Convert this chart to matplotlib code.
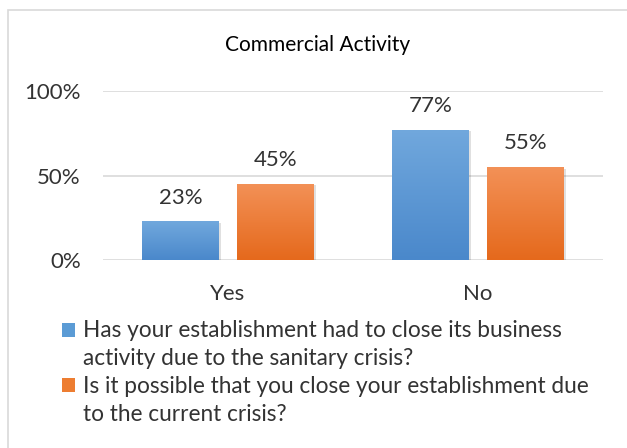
import numpy as np
import matplotlib
matplotlib.use("Agg")
import matplotlib.pyplot as plt
from matplotlib.colors import LinearSegmentedColormap, to_rgb
from matplotlib.patches import Rectangle
import matplotlib.transforms as mtransforms

plt.rcParams['font.family'] = ['Lato', 'DejaVu Sans']

# ---- data ----
title = "Commercial Activity"
categories = ["Yes", "No"]
series_names = [
    "Has your establishment had to close its business\nactivity due to the sanitary crisis?",
    "Is it possible that you close your establishment due\nto the current crisis?",
]
closed_values = [0.23, 0.77]
possible_values = [0.45, 0.55]
y_ticks = [0.0, 0.5, 1.0]
y_tick_labels = ["0%", "50%", "100%"]

series_values = [closed_values, possible_values]
base_colors = ["#5b9bd5", "#ed7d31"]
grad_top = ["#71a8dd", "#f39157"]
grad_bottom = ["#4a88cb", "#e5691c"]
text_color = "#333333"

W, H = 627, 448
fig = plt.figure(figsize=(W / 100, H / 100), dpi=100)

# outer chart border
border = Rectangle((7.5 / W, -0.1), 1.2, 1.1 - 10.5 / H, transform=fig.transFigure,
                   fill=False, edgecolor="#d9d9d9", linewidth=1.2)
fig.patches.append(border)

ax = fig.add_axes([103 / W, (H - 260) / H, 500 / W, 169 / H])
for s in ax.spines.values():
    s.set_visible(False)
ax.set_yticks(y_ticks)
ax.set_yticklabels(y_tick_labels)
ax.yaxis.grid(True, color="#d9d9d9", linewidth=1.2)
ax.set_axisbelow(True)
ax.tick_params(axis="y", length=0, pad=16, labelsize=16, labelcolor=text_color)
ax.set_xticks(range(len(categories)))
ax.set_xticklabels(categories)
ax.tick_params(axis="x", length=0, pad=17, labelsize=16, labelcolor=text_color)

bar_w = 0.308
offsets = [-0.19, 0.19]
x = np.arange(len(categories))

for i, vals in enumerate(series_values):
    cmap = LinearSegmentedColormap.from_list(
        f"g{i}", [to_rgb(grad_bottom[i]), to_rgb(grad_top[i])])
    # soft shadow
    shadow_tf = ax.transData + mtransforms.ScaledTranslation(2 / 100, -1.5 / 100, fig.dpi_scale_trans)
    for xi, v in zip(x, vals):
        ax.add_patch(Rectangle((xi + offsets[i] - bar_w / 2, 0), bar_w, v,
                               transform=shadow_tf, facecolor="#000000",
                               alpha=0.12, edgecolor="none", zorder=2))
    bars = ax.bar(x + offsets[i], vals, width=bar_w, color=base_colors[i],
                  edgecolor="none", zorder=3)
    for b, v in zip(bars, vals):
        x0 = b.get_x()
        grad = np.linspace(0, 1, 256).reshape(-1, 1)
        im = ax.imshow(grad, extent=(x0, x0 + b.get_width(), 0, v), origin="lower",
                       aspect="auto", cmap=cmap, zorder=4)
        im.set_clip_path(b)
        ax.annotate(f"{round(v * 100)}%", (b.get_x() + b.get_width() / 2, v),
                    xytext=(0, 17), textcoords="offset points",
                    ha="center", va="center", fontsize=16, color=text_color)

ax.set_xlim(-0.5, 1.5)
ax.set_ylim(0, 1)

fig.text(318 / W, 1 - 45 / H, title, ha="center", va="center",
         fontsize=15, color="#000000")

# legend drawn as colored squares beside wrapped labels
square_top = [323, 378]
baselines = [[337, 365], [393, 421]]
for i, name in enumerate(series_names):
    fig.patches.append(Rectangle((62 / W, 1 - (square_top[i] + 14) / H), 13 / W, 14 / H,
                                 transform=fig.transFigure, facecolor=base_colors[i],
                                 edgecolor="none"))
    for line, yb in zip(name.split("\n"), baselines[i]):
        fig.text(83 / W, 1 - yb / H, line, ha="left", va="baseline",
                 fontsize=16.3, color=text_color)

fig.savefig("out.png", dpi=100)
